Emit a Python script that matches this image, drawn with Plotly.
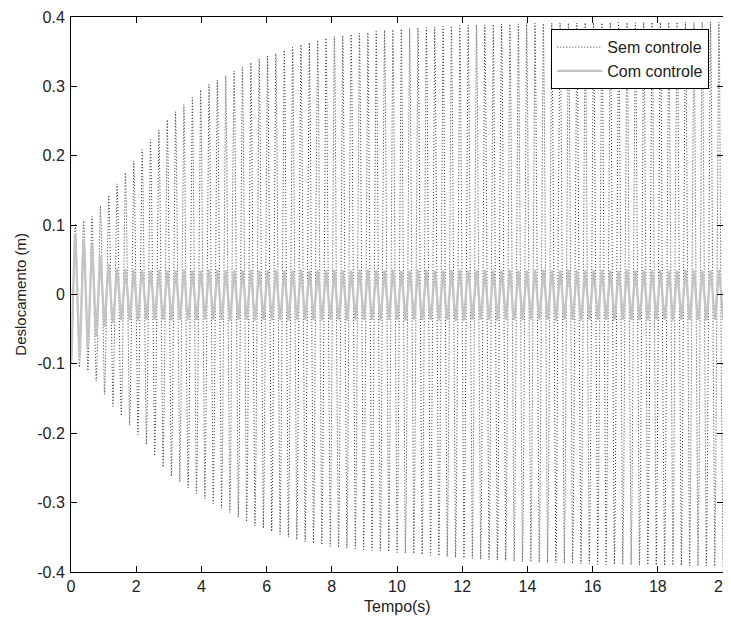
import numpy as np
import plotly.graph_objects as go

# ---- values ----
# "Sem controle": envelope of the oscillation (upper / lower peaks) at times (s)
sem_env_time = [0.0, 0.6, 1.2, 2.2, 3.0, 4.1, 5.6, 7.0, 8.0, 10.0, 12.0, 14.0, 16.0, 20.0]
sem_env_upper = [0.10, 0.11, 0.146, 0.21, 0.255, 0.30, 0.337, 0.36, 0.372, 0.383, 0.388, 0.391, 0.392, 0.393]
sem_env_lower = [-0.10, -0.112, -0.157, -0.21, -0.26, -0.295, -0.333, -0.355, -0.364, -0.372, -0.38, -0.386, -0.389, -0.392]

# "Com controle": envelope of the oscillation at times (s)
com_env_time = [0.0, 0.15, 0.3, 0.6, 0.9, 1.2, 1.5, 2.0, 20.0]
com_env_upper = [0.10, 0.085, 0.082, 0.075, 0.055, 0.04, 0.035, 0.034, 0.034]
com_env_lower = [-0.10, -0.095, -0.09, -0.07, -0.05, -0.04, -0.037, -0.036, -0.036]

# oscillation frequency read from the spacing of the crests (Hz)
oscillation_hz = 3.9

series_names = ["Sem controle", "Com controle"]
x_tick_values = [0, 2, 4, 6, 8, 10, 12, 14, 16, 18, 20]
y_tick_values = [-0.4, -0.3, -0.2, -0.1, 0, 0.1, 0.2, 0.3, 0.4]
y_tick_labels = ["-0.4", "-0.3", "-0.2", "-0.1", "0", "0.1", "0.2", "0.3", "0.4"]
x_title = "Tempo(s)"
y_title = "Deslocamento (m)"


def waveform(env_t, env_up, env_lo, t):
    phase = np.sin(2 * np.pi * oscillation_hz * t - np.pi / 2)
    up = np.interp(t, env_t, env_up)
    lo = np.interp(t, env_t, env_lo)
    return np.where(phase >= 0, phase * up, -phase * lo)


t = np.linspace(0, 20, 4001)
y_sem = waveform(sem_env_time, sem_env_upper, sem_env_lower, t)
y_com = waveform(com_env_time, com_env_upper, com_env_lower, t)

font_family = "Liberation Sans, Arial, sans-serif"

fig = go.Figure()
fig.add_trace(go.Scatter(
    x=t, y=y_sem, mode="lines", name=series_names[0],
    line=dict(color="#333333", width=1, dash="1px,2px"),
))
fig.add_trace(go.Scatter(
    x=t, y=y_com, mode="lines", name=series_names[1],
    line=dict(color="#c4c4c4", width=2.4),
))

axis_common = dict(
    showline=True, linecolor="black", linewidth=1, mirror="ticks",
    ticks="inside", ticklen=6, tickcolor="black", tickwidth=1,
    showgrid=False, zeroline=False, automargin=False,
    ticklabeloverflow="allow",
    tickfont=dict(family=font_family, size=16, color="#222"),
)

# the page body adds an 8px offset, so the figure is 8px smaller each way
fig.update_layout(
    width=723, height=618,
    margin=dict(l=63, r=8, t=9, b=54),
    paper_bgcolor="white", plot_bgcolor="white",
    font=dict(family=font_family, size=16, color="#222"),
    showlegend=True,
    legend=dict(
        x=0.979, xanchor="right", y=0.978, yanchor="top",
        bgcolor="white", bordercolor="black", borderwidth=1,
        font=dict(family=font_family, size=16, color="#222"),
        itemwidth=45, tracegroupgap=0,
    ),
    xaxis=dict(range=[0, 20], tickvals=x_tick_values, **axis_common),
    yaxis=dict(
        range=[-0.4, 0.4], tickvals=y_tick_values, ticktext=y_tick_labels,
        ticklabelstandoff=2,
        **axis_common,
    ),
    annotations=[
        dict(text=x_title, xref="paper", yref="paper", x=0.5, y=-0.063,
             xanchor="center", yanchor="middle", showarrow=False,
             font=dict(family=font_family, size=16, color="#222")),
        dict(text=y_title, xref="paper", yref="paper", x=-0.078, y=0.5,
             xanchor="center", yanchor="middle", showarrow=False, textangle=-90,
             font=dict(family=font_family, size=15, color="#222")),
    ],
)

fig.write_html("out.html")
